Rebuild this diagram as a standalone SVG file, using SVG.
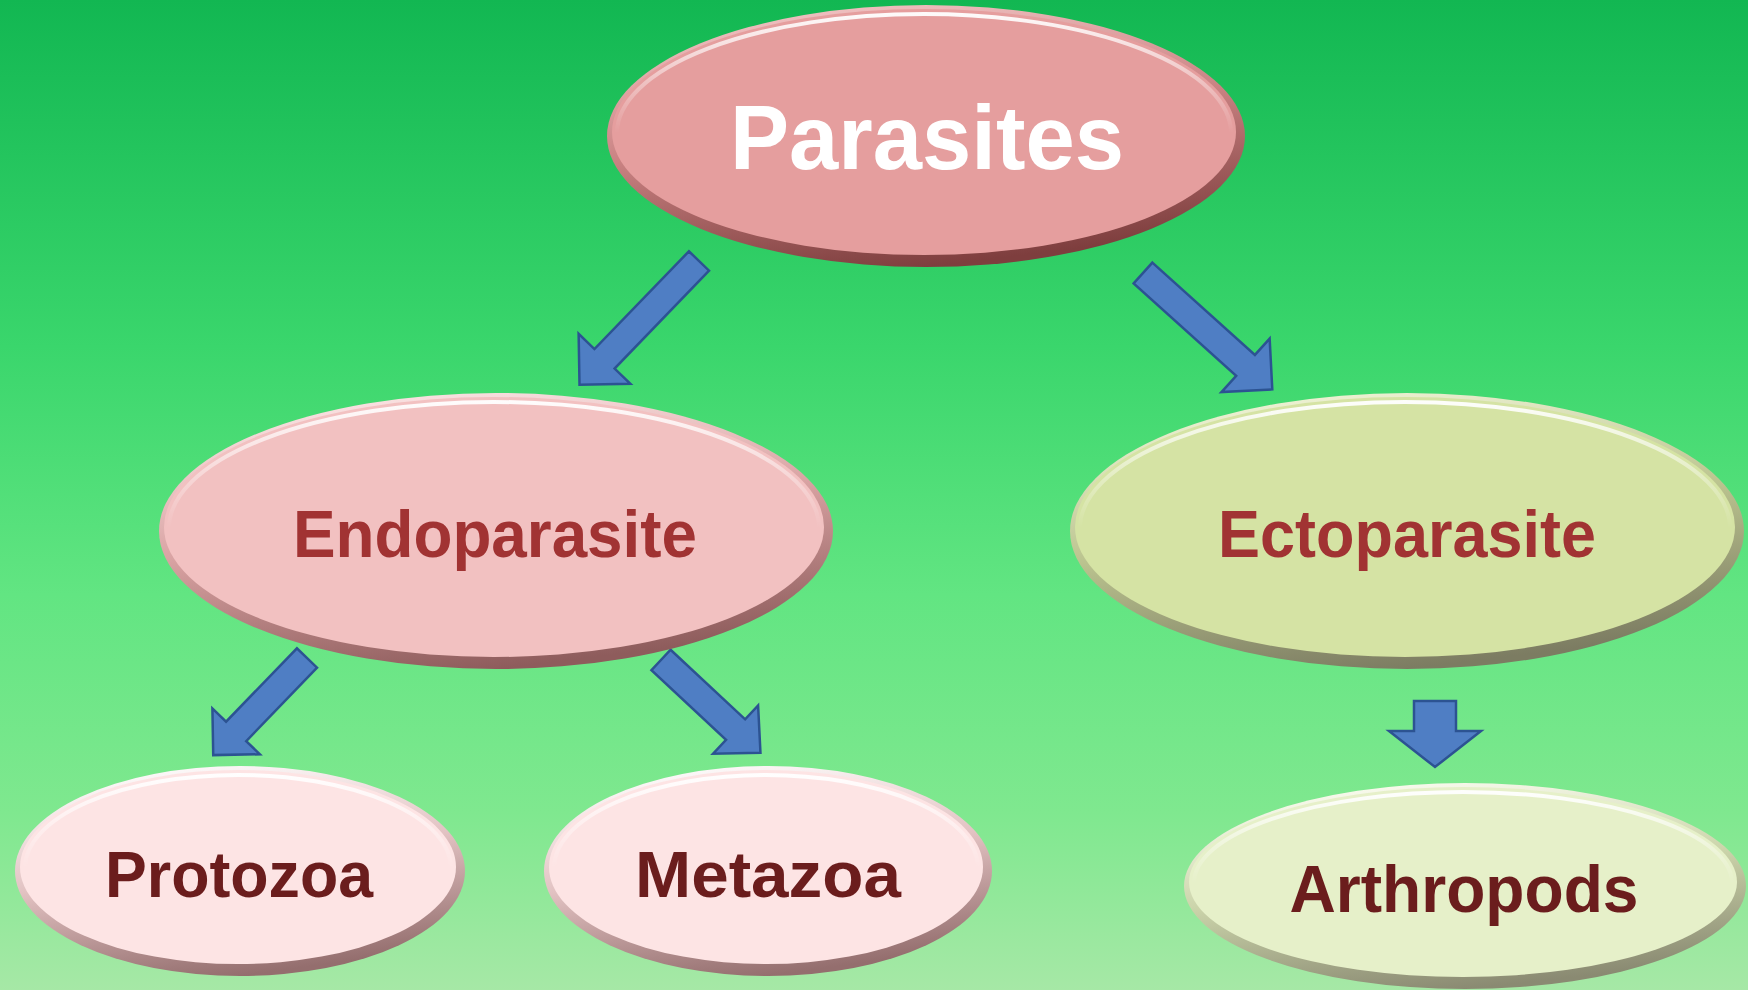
<svg xmlns="http://www.w3.org/2000/svg" width="1748" height="990" viewBox="0 0 1748 990">
<style>
.lbl{font-family:"Liberation Sans",Arial,sans-serif;font-weight:700;text-anchor:middle}
.top{fill:#ffffff}
.mid{fill:#a13333}
.low{fill:#6b1d1d}
.arr{fill:#4f7ec4;stroke:#2c5392;stroke-width:2.5;stroke-linejoin:miter}
.hl{fill:none;stroke:url(#hi);stroke-width:4}
</style>
<defs>
<linearGradient id="bg" x1="0" y1="0" x2="0" y2="1">
<stop offset="0" stop-color="#12b752"/>
<stop offset="0.35" stop-color="#3ad66c"/>
<stop offset="0.6" stop-color="#62e582"/>
<stop offset="0.82" stop-color="#7fe88f"/>
<stop offset="1" stop-color="#a6e8a6"/>
</linearGradient>
<linearGradient id="hi" x1="0" y1="0" x2="0" y2="1">
<stop offset="0" stop-color="#ffffff" stop-opacity="0.95"/>
<stop offset="0.3" stop-color="#ffffff" stop-opacity="0.35"/>
<stop offset="0.5" stop-color="#ffffff" stop-opacity="0"/>
</linearGradient>
<linearGradient id="rimP" x1="0.2" y1="0" x2="0.5" y2="1">
<stop offset="0" stop-color="#f3c6c6"/>
<stop offset="0.5" stop-color="#c98282"/>
<stop offset="1" stop-color="#7e3e3e"/>
</linearGradient>
<linearGradient id="rimE" x1="0.2" y1="0" x2="0.5" y2="1">
<stop offset="0" stop-color="#fde8e8"/>
<stop offset="0.5" stop-color="#d9a3a3"/>
<stop offset="1" stop-color="#8e5c5c"/>
</linearGradient>
<linearGradient id="rimC" x1="0.2" y1="0" x2="0.5" y2="1">
<stop offset="0" stop-color="#f2f6da"/>
<stop offset="0.5" stop-color="#bcc590"/>
<stop offset="1" stop-color="#7c7c62"/>
</linearGradient>
<linearGradient id="rimL" x1="0.2" y1="0" x2="0.5" y2="1">
<stop offset="0" stop-color="#ffffff"/>
<stop offset="0.5" stop-color="#e2c2c2"/>
<stop offset="1" stop-color="#946e6e"/>
</linearGradient>
<linearGradient id="rimA" x1="0.2" y1="0" x2="0.5" y2="1">
<stop offset="0" stop-color="#fdfef4"/>
<stop offset="0.5" stop-color="#ccd5ab"/>
<stop offset="1" stop-color="#8a8a72"/>
</linearGradient>
</defs>
<rect x="0" y="0" width="1748" height="990" fill="url(#bg)"/>

<g id="connectors">
<polygon class="arr" transform="translate(699,261) rotate(134)" points="0,-14 136,-14 136,-36 172,0 136,36 136,14 0,14"/>
<polygon class="arr" transform="translate(1143,273) rotate(42)" points="0,-14 138,-14 138,-36 174,0 138,36 138,14 0,14"/>
<polygon class="arr" transform="translate(307,658) rotate(134)" points="0,-14 102,-14 102,-33 135,0 102,33 102,14 0,14"/>
<polygon class="arr" transform="translate(661,660) rotate(43)" points="0,-14 102,-14 102,-33 136,0 102,33 102,14 0,14"/>
<polygon class="arr" transform="translate(1435,701) rotate(90)" points="0,-21 30,-21 30,-46 66,0 30,46 30,21 0,21"/>
</g>

<g id="parasites">
<ellipse cx="926" cy="136" rx="319" ry="131" fill="url(#rimP)"/>
<ellipse cx="924" cy="132" rx="312" ry="123" fill="#e59e9e"/>
<ellipse cx="924" cy="133" rx="307" ry="119" class="hl"/>
<text class="lbl top" x="927" y="169" font-size="90" textLength="394" lengthAdjust="spacingAndGlyphs">Parasites</text>
</g>

<g id="endoparasite">
<ellipse cx="496" cy="531" rx="337" ry="138" fill="url(#rimE)"/>
<ellipse cx="494" cy="527" rx="330" ry="130" fill="#f2c1c1"/>
<ellipse cx="494" cy="528" rx="325" ry="126" class="hl"/>
<text class="lbl mid" x="495" y="557" font-size="67" textLength="404" lengthAdjust="spacingAndGlyphs">Endoparasite</text>
</g>

<g id="ectoparasite">
<ellipse cx="1407" cy="531" rx="337" ry="138" fill="url(#rimC)"/>
<ellipse cx="1405" cy="527" rx="330" ry="130" fill="#d5e3a4"/>
<ellipse cx="1405" cy="528" rx="325" ry="126" class="hl"/>
<text class="lbl mid" x="1407" y="557" font-size="67" textLength="378" lengthAdjust="spacingAndGlyphs">Ectoparasite</text>
</g>

<g id="protozoa">
<ellipse cx="240" cy="871" rx="225" ry="105" fill="url(#rimL)"/>
<ellipse cx="238" cy="867" rx="218" ry="97" fill="#fde4e4"/>
<ellipse cx="238" cy="868" rx="213" ry="93" class="hl"/>
<text class="lbl low" x="239" y="897" font-size="65" textLength="268" lengthAdjust="spacingAndGlyphs">Protozoa</text>
</g>

<g id="metazoa">
<ellipse cx="768" cy="871" rx="224" ry="105" fill="url(#rimL)"/>
<ellipse cx="766" cy="867" rx="217" ry="97" fill="#fde4e4"/>
<ellipse cx="766" cy="868" rx="212" ry="93" class="hl"/>
<text class="lbl low" x="768" y="897" font-size="65" textLength="266" lengthAdjust="spacingAndGlyphs">Metazoa</text>
</g>

<g id="arthropods">
<ellipse cx="1465" cy="886" rx="281" ry="103" fill="url(#rimA)"/>
<ellipse cx="1463" cy="882" rx="274" ry="95" fill="#e6f0c9"/>
<ellipse cx="1463" cy="883" rx="269" ry="91" class="hl"/>
<text class="lbl low" x="1464" y="912" font-size="67" textLength="349" lengthAdjust="spacingAndGlyphs">Arthropods</text>
</g>
</svg>
